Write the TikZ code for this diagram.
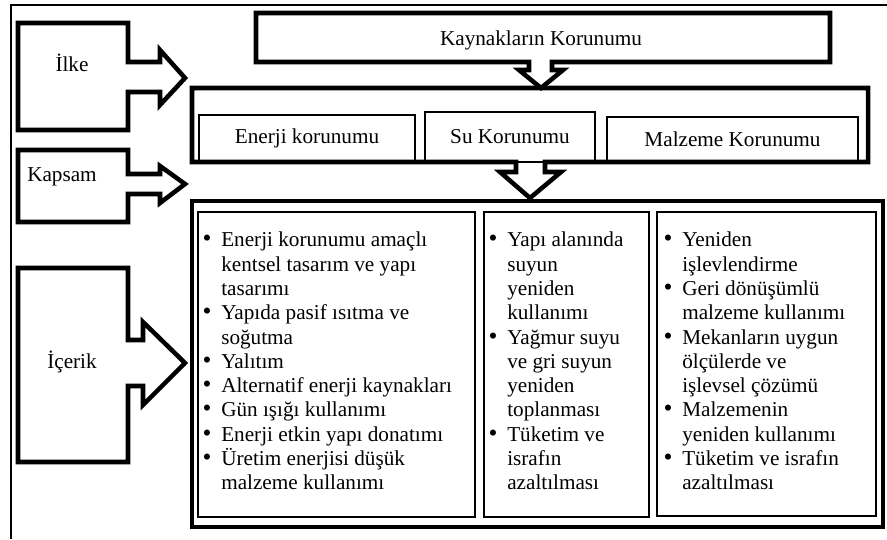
\documentclass[tikz,border=0pt]{standalone}
\usepackage{fontspec}
\setmainfont{Liberation Serif}
\usetikzlibrary{calc}

\newcommand\bul{\makebox[15pt][l]{\hspace*{1pt}\smash{\scalebox{1.2}{\textbullet}}}}
\newcommand\ind{\hspace*{15pt}}

\begin{document}
\begin{tikzpicture}[
  x=0.75pt, y=-0.75pt,
  heavy/.style={draw=black, line width=3.4pt, line join=miter},
  light/.style={draw=black, line width=1.1pt},
  frame/.style={draw=black, line width=1.5pt},
  lab/.style={font=\fontsize{15.9pt}{18.2pt}\selectfont, inner sep=0pt},
  list/.style={lab, anchor=north west, align=left},
  head/.style={lab, light, inner sep=0pt},
]
\useasboundingbox (0,0) rectangle (887,539);

% ------------------------------------------------------------------
% page frame
% ------------------------------------------------------------------
\draw[frame] (887,5) -- (11,5) -- (11,539);

% ------------------------------------------------------------------
% left column: boxes with block arrows
% ------------------------------------------------------------------
\draw[heavy] (18,23) -- (128,23) -- (128,62) -- (160,62) -- (160,50) -- (185,78)
   -- (160,105) -- (160,92) -- (128,92) -- (128,130) -- (18,130) -- cycle;
\node[lab] (ilke) at (72,63) {İlke};

\draw[heavy] (18,150) -- (128,150) -- (128,174) -- (160,174) -- (160,166) -- (185,184)
   -- (160,203) -- (160,194) -- (128,194) -- (128,222) -- (18,222) -- cycle;
\node[lab] (kapsam) at (62,177) {Kapsam};

\draw[heavy] (18,268) -- (128,268) -- (128,340) -- (143,340) -- (143,322) -- (185,363)
   -- (143,405) -- (143,386) -- (128,386) -- (128,462) -- (18,462) -- cycle;
\node[lab] (icerik) at (72,362) {İçerik};

% ------------------------------------------------------------------
% top: resources box, arrow down into the three headings
% ------------------------------------------------------------------
\draw[heavy] (256,13) -- (830,13) -- (830,62) -- (552,62) -- (552,70) -- (563,70)
   -- (541,88) -- (519,70) -- (529,70) -- (529,62) -- (256,62) -- cycle;
\node[lab] (kaynak) at (541,40) {Kaynakların Korunumu};

\draw[heavy] (192,88) -- (868,88) -- (868,162) -- (545,162) -- (545,172) -- (561,172)
   -- (530,198) -- (500,172) -- (516,172) -- (516,162) -- (192,162) -- cycle;

\node[head, minimum width=162pt, minimum height=35.25pt] (enerji) at (307,138.5) {Enerji korunumu};
\node[head, minimum width=127.5pt, minimum height=37.5pt] (su) at (510,137) {Su Korunumu};
\node[head, minimum width=188.25pt, minimum height=33.75pt] (malzeme) at (732.5,139.5) {Malzeme Korunumu};

% ------------------------------------------------------------------
% contents
% ------------------------------------------------------------------
\draw[heavy] (192,201) rectangle (883,527);
\draw[light] (198,212) rectangle (475,517);
\draw[light] (484,212) rectangle (649,517);
\draw[light] (657,212) rectangle (876,516);

\node[list] (col1) at (201,232) {%
  \bul Enerji korunumu amaçlı\\
  \ind kentsel tasarım ve yapı\\
  \ind tasarımı\\
  \bul Yapıda pasif ısıtma ve\\
  \ind soğutma\\
  \bul Yalıtım\\
  \bul Alternatif enerji kaynakları\\
  \bul Gün ışığı kullanımı\\
  \bul Enerji etkin yapı donatımı\\
  \bul Üretim enerjisi düşük\\
  \ind malzeme kullanımı};

\node[list] (col2) at (487,232) {%
  \bul Yapı alanında\\
  \ind suyun\\
  \ind yeniden\\
  \ind kullanımı\\
  \bul Yağmur suyu\\
  \ind ve gri suyun\\
  \ind yeniden\\
  \ind toplanması\\
  \bul Tüketim ve\\
  \ind israfın\\
  \ind azaltılması};

\node[list] (col3) at (662,232) {%
  \bul Yeniden\\
  \ind işlevlendirme\\
  \bul Geri dönüşümlü\\
  \ind malzeme kullanımı\\
  \bul Mekanların uygun\\
  \ind ölçülerde ve\\
  \ind işlevsel çözümü\\
  \bul Malzemenin\\
  \ind yeniden kullanımı\\
  \bul Tüketim ve israfın\\
  \ind azaltılması};
\end{tikzpicture}
\end{document}
